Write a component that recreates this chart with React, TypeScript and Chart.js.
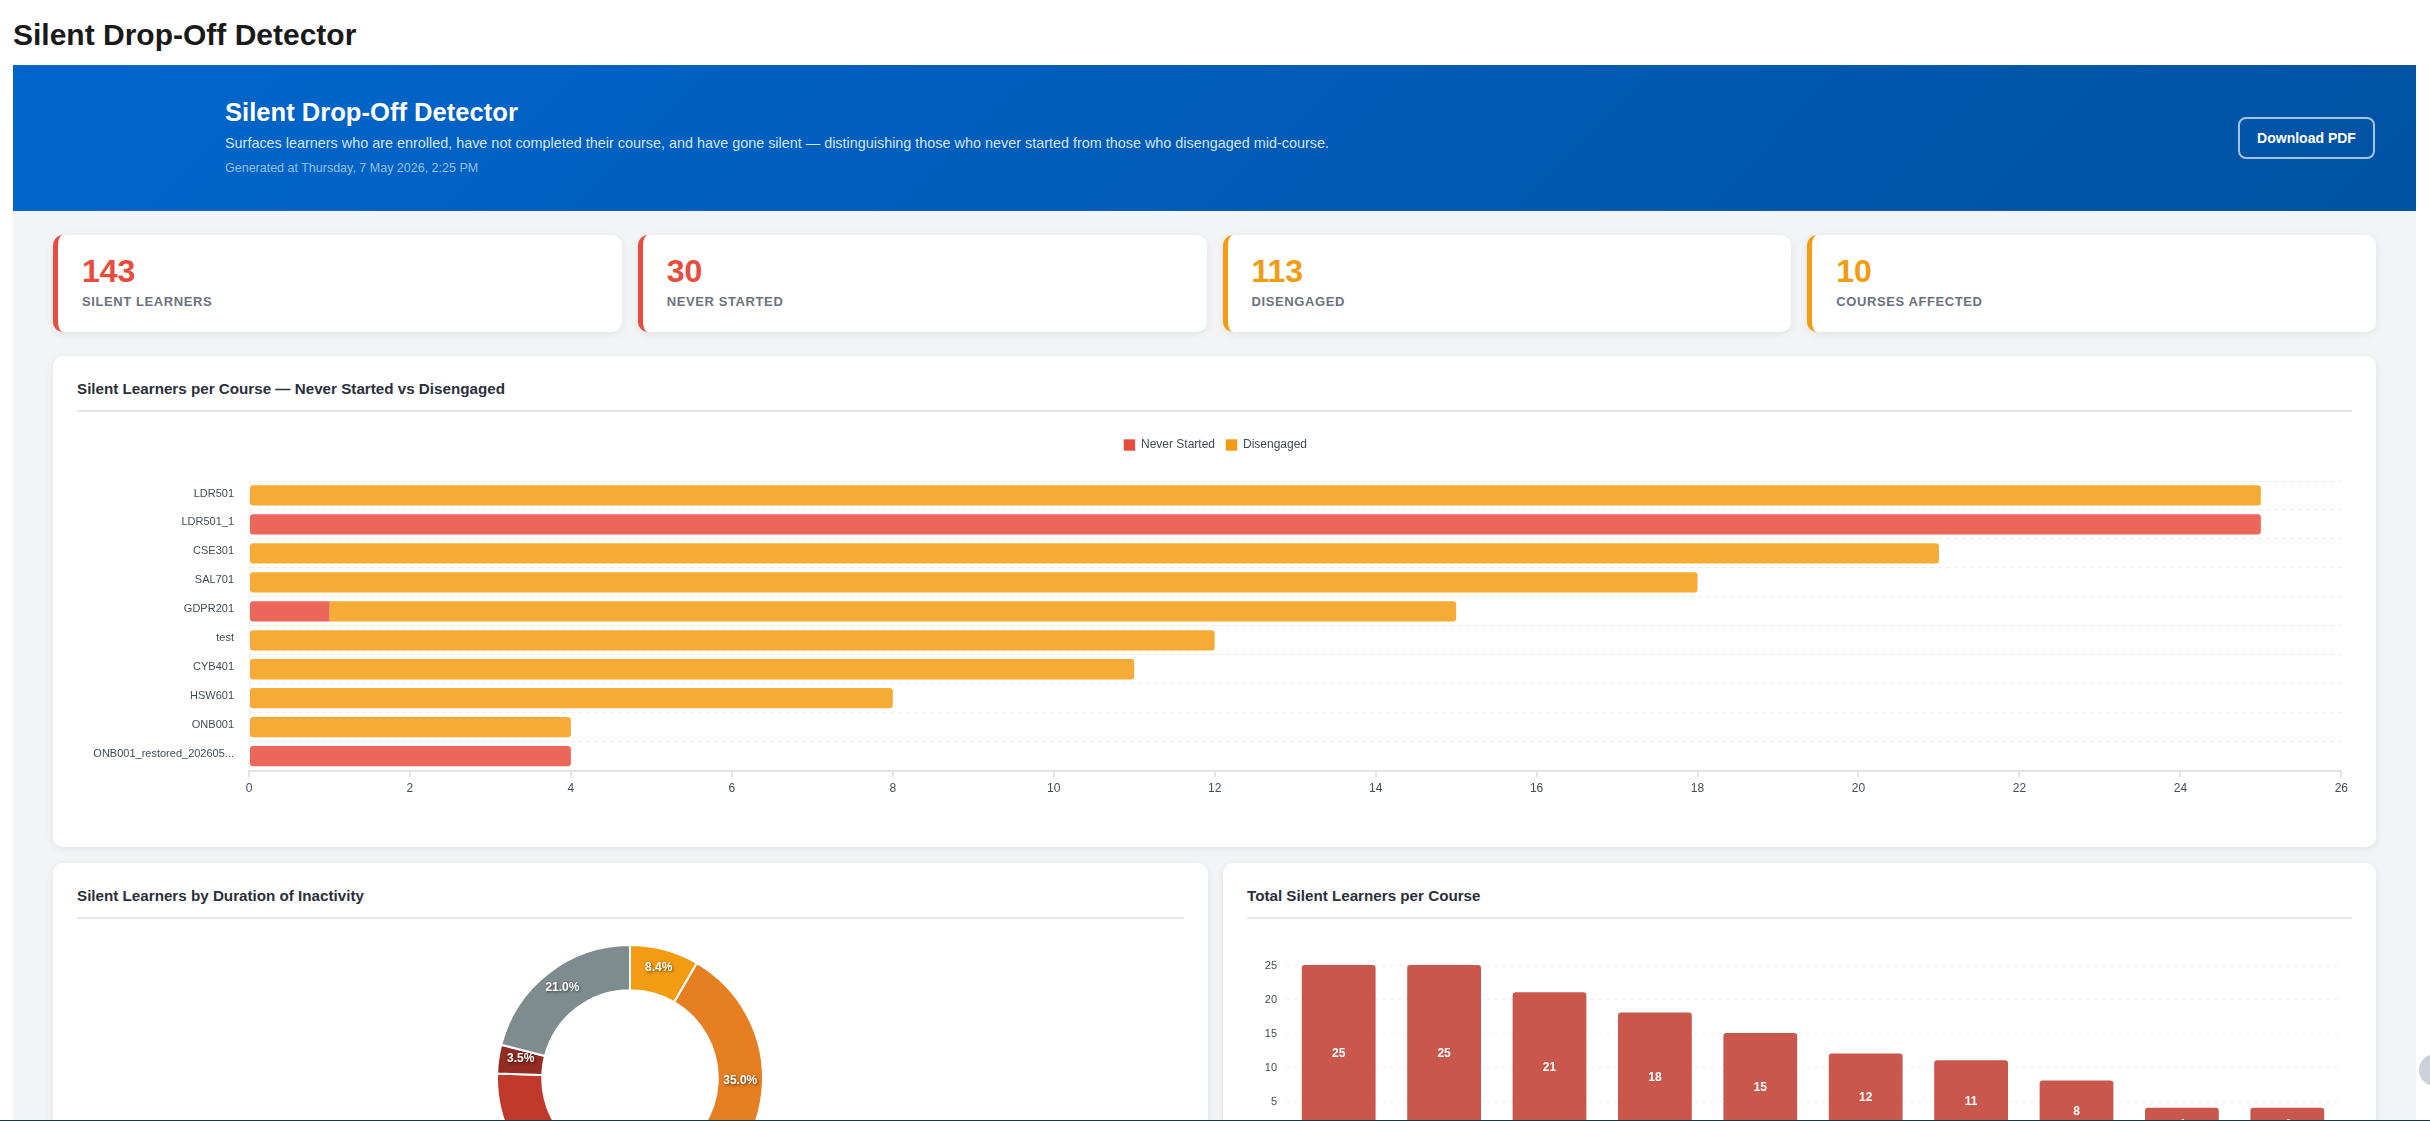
import React, { useEffect, useRef } from "react";
import { Chart, registerables } from "chart.js";

Chart.register(...registerables);

const courses = ["LDR501", "LDR501_1", "CSE301", "SAL701", "GDPR201", "test", "CYB401", "HSW601", "ONB001", "ONB001_restored_202605..."];
const neverStarted = [0, 25, 0, 0, 1, 0, 0, 0, 0, 4];
const disengaged = [25, 0, 21, 18, 14, 12, 11, 8, 4, 0];
const totals = [25, 25, 21, 18, 15, 12, 11, 8, 4, 4];
const durationBands = ["Band 1", "Band 2", "Band 3", "Band 4", "Band 5"];
const durationCounts = [12, 50, 46, 5, 30];
const durationColors = ["#f39c12", "#e67e22", "#c0392b", "#922b21", "#7f8c8d"];
const kpis = [
  { value: "143", label: "Silent Learners", color: "#e74c3c" },
  { value: "30", label: "Never Started", color: "#e74c3c" },
  { value: "113", label: "Disengaged", color: "#f39c12" },
  { value: "10", label: "Courses Affected", color: "#f39c12" },
];

const FONT = "'Liberation Sans', Arial, sans-serif";
const TICK = "#444b55";
const R = 3;

const doughnutLabels = {
  id: "doughnutLabels",
  afterDatasetsDraw(chart: any) {
    const meta = chart.getDatasetMeta(0);
    const total = durationCounts.reduce((a, b) => a + b, 0);
    const ctx = chart.ctx;
    ctx.save();
    ctx.font = `bold 12px ${FONT}`;
    ctx.fillStyle = "#fff";
    ctx.textAlign = "center";
    ctx.shadowColor = "rgba(0,0,0,0.6)";
    ctx.shadowBlur = 3;
    ctx.shadowOffsetX = 1;
    ctx.shadowOffsetY = 1;
    meta.data.forEach((arc: any, i: number) => {
      const p = arc.tooltipPosition();
      ctx.fillText(((durationCounts[i] / total) * 100).toFixed(1) + "%", p.x, p.y);
    });
    ctx.restore();
  },
};

const barLabels = {
  id: "barLabels",
  afterDatasetsDraw(chart: any) {
    const meta = chart.getDatasetMeta(0);
    const ctx = chart.ctx;
    ctx.save();
    ctx.font = `bold 12px ${FONT}`;
    ctx.fillStyle = "#fff";
    ctx.textAlign = "center";
    ctx.textBaseline = "middle";
    meta.data.forEach((bar: any, i: number) => {
      const mid = (bar.y + bar.base) / 2;
      ctx.fillText(String(totals[i]), bar.x, mid + 4);
    });
    ctx.restore();
  },
};

const legendGap = {
  id: "legendGap",
  beforeLayout(chart: any) {
    const legend = chart.legend;
    if (legend && !legend.__patched) {
      const fit = legend.fit;
      legend.fit = function () {
        fit.call(this);
        this.height += 20;
      };
      legend.__patched = true;
    }
  },
};

function useChart(make: (c: HTMLCanvasElement) => Chart) {
  const ref = useRef<HTMLCanvasElement>(null);
  useEffect(() => {
    const chart = make(ref.current!);
    return () => chart.destroy();
  }, []);
  return ref;
}

const cardStyle: React.CSSProperties = {
  position: "absolute",
  background: "#fff",
  borderRadius: 10,
  boxShadow: "0 2px 8px rgba(0,0,0,0.08)",
};

function CardTitle({ text, left, top, width }: { text: string; left: number; top: number; width: number }) {
  return (
    <div style={{ position: "absolute", left, top, width, height: 38, borderBottom: "2px solid #e5e5ec", fontSize: 15.2, fontWeight: 700, color: "#2a303c", lineHeight: "34px" }}>
      {text}
    </div>
  );
}

export default function App() {
  const stackedRef = useChart((c) =>
    new Chart(c, {
      type: "bar",
      data: {
        labels: courses,
        datasets: [
          {
            label: "Never Started",
            data: neverStarted,
            backgroundColor: "rgba(231,76,60,0.85)",
            borderSkipped: false,
            borderRadius: (ctx: any) => {
              const inner = disengaged[ctx.dataIndex] > 0 ? 0 : R;
              return { topLeft: R, bottomLeft: R, topRight: inner, bottomRight: inner };
            },
            barPercentage: 0.7,
            categoryPercentage: 1,
          },
          {
            label: "Disengaged",
            data: disengaged,
            backgroundColor: "rgba(243,156,18,0.85)",
            borderSkipped: false,
            borderRadius: (ctx: any) => {
              const inner = neverStarted[ctx.dataIndex] > 0 ? 0 : R;
              return { topLeft: inner, bottomLeft: inner, topRight: R, bottomRight: R };
            },
            barPercentage: 0.7,
            categoryPercentage: 1,
          },
        ],
      },
      options: {
        indexAxis: "y",
        responsive: false,
        animation: false,
        layout: { padding: { left: 8, right: 6, top: 5, bottom: 23 } },
        plugins: {
          tooltip: { enabled: false },
          legend: {
            position: "top",
            align: "center",
            labels: {
              boxWidth: 11,
              boxHeight: 11,
              padding: 11,
              color: TICK,
              font: { family: FONT, size: 12 },
              generateLabels: () => [
                { text: "Never Started", fillStyle: "#e74c3c", strokeStyle: "rgba(231,76,60,0.35)", lineWidth: 1, fontColor: TICK, datasetIndex: 0 },
                { text: "Disengaged", fillStyle: "#f39c12", strokeStyle: "rgba(243,156,18,0.35)", lineWidth: 1, fontColor: TICK, datasetIndex: 1 },
              ],
            },
          },
        },
        scales: {
          x: {
            stacked: true,
            min: 0,
            max: 26,
            grid: { drawOnChartArea: false, color: "#e4e4e4", lineWidth: 2, tickLength: 7 },
            border: { color: "#e4e4e4", width: 2 },
            ticks: { stepSize: 2, color: TICK, padding: 4, font: { family: FONT, size: 12 }, maxRotation: 0 },
          },
          y: {
            stacked: true,
            afterFit(scale: any) {
              scale.width = 164;
            },
            grid: { color: "#ececec", drawTicks: false, lineWidth: 1 },
            border: { color: "#efefef", dash: [4, 4], width: 1 },
            ticks: { color: TICK, padding: 15, labelOffset: -2, font: { family: FONT, size: 11 }, autoSkip: false },
          },
        },
      },
      plugins: [legendGap],
    })
  );

  const doughnutRef = useChart((c) =>
    new Chart(c, {
      type: "doughnut",
      data: {
        labels: durationBands,
        datasets: [{ data: durationCounts, backgroundColor: durationColors, borderColor: "#fff", borderWidth: 2 }],
      },
      options: {
        responsive: false,
        animation: false,
        cutout: "66%",
        plugins: { legend: { display: false }, tooltip: { enabled: false } },
      },
      plugins: [doughnutLabels],
    })
  );

  const totalRef = useChart((c) =>
    new Chart(c, {
      type: "bar",
      data: {
        labels: courses,
        datasets: [{ label: "Total", data: totals, backgroundColor: "rgba(192,57,43,0.85)", borderRadius: 3, barPercentage: 0.7, categoryPercentage: 1 }],
      },
      options: {
        responsive: false,
        animation: false,
        layout: { padding: { left: 0, right: 12, top: 35, bottom: 0 } },
        plugins: { legend: { display: false }, tooltip: { enabled: false } },
        scales: {
          x: {
            afterFit(scale: any) {
              scale.height = 45;
            },
            grid: { display: false },
            ticks: { color: TICK, font: { family: FONT, size: 11 }, minRotation: 45, maxRotation: 45, autoSkip: false },
          },
          y: {
            min: 0,
            max: 25,
            afterFit(scale: any) {
              scale.width = 39;
            },
            grid: { color: "#f0f0f0", drawTicks: false },
            border: { display: false, dash: [4, 4] },
            ticks: { stepSize: 5, color: TICK, padding: 9, labelOffset: 1, font: { family: FONT, size: 11 } },
          },
        },
      },
      plugins: [barLabels],
    })
  );

  return (
    <div style={{ position: "fixed", left: 0, top: 0, width: 2430, height: 1121, overflow: "hidden", background: "#fff", fontFamily: FONT }}>
      <div style={{ position: "absolute", left: 13, top: 16, fontSize: 30, fontWeight: 700, lineHeight: "37px", color: "#1a1a1a" }}>Silent Drop-Off Detector</div>

      <div style={{ position: "absolute", left: 13, top: 211, width: 2403, height: 910, background: "#f3f4f6" }} />

      <div style={{ position: "absolute", left: 13, top: 65, width: 2403, height: 146, background: "linear-gradient(135deg, #0066cc 0%, #0052a3 100%)", color: "#fff" }}>
        <div style={{ position: "absolute", left: 212, top: 31, fontSize: 25.6, fontWeight: 700, lineHeight: "32px", whiteSpace: "nowrap" }}>Silent Drop-Off Detector</div>
        <div style={{ position: "absolute", left: 212, top: 69, fontSize: 14.4, lineHeight: "18px", color: "rgba(255,255,255,0.85)", whiteSpace: "nowrap" }}>
          Surfaces learners who are enrolled, have not completed their course, and have gone silent — distinguishing those who never started from those who disengaged mid-course.
        </div>
        <div style={{ position: "absolute", left: 212, top: 95, fontSize: 12.5, lineHeight: "16px", color: "rgba(255,255,255,0.6)", whiteSpace: "nowrap" }}>Generated at Thursday, 7 May 2026, 2:25 PM</div>
        <div style={{ position: "absolute", left: 2225, top: 52, width: 137, height: 42, boxSizing: "border-box", border: "2px solid rgba(255,255,255,0.65)", borderRadius: 8, fontSize: 14, fontWeight: 700, lineHeight: "38px", textAlign: "center" }}>Download PDF</div>
      </div>

      {kpis.map((k, i) => (
        <div key={k.label} style={{ ...cardStyle, left: 53 + i * 584.75, top: 235, width: 568.75, height: 97, boxSizing: "border-box", borderLeft: `5px solid ${k.color}` }}>
          <div style={{ position: "absolute", left: 24, top: 18, fontSize: 32, fontWeight: 700, lineHeight: "37px", color: k.color }}>{k.value}</div>
          <div style={{ position: "absolute", left: 24, top: 59, fontSize: 13, fontWeight: 700, lineHeight: "15px", letterSpacing: 0.6, textTransform: "uppercase", color: "#6b7280" }}>{k.label}</div>
        </div>
      ))}

      <div style={{ ...cardStyle, left: 53, top: 356, width: 2323, height: 491 }} />
      <CardTitle text="Silent Learners per Course — Never Started vs Disengaged" left={77} top={372} width={2275} />
      <canvas ref={stackedRef} width={2275} height={400} style={{ position: "absolute", left: 77, top: 423, width: 2275, height: 400 }} />

      <div style={{ ...cardStyle, left: 53, top: 863, width: 1154.5, height: 400 }} />
      <CardTitle text="Silent Learners by Duration of Inactivity" left={77} top={879} width={1106.5} />
      <canvas ref={doughnutRef} width={268} height={268} style={{ position: "absolute", left: 496, top: 944, width: 268, height: 268 }} />

      <div style={{ ...cardStyle, left: 1223, top: 863, width: 1153, height: 400 }} />
      <CardTitle text="Total Silent Learners per Course" left={1247} top={879} width={1105} />
      <canvas ref={totalRef} width={1105} height={250} style={{ position: "absolute", left: 1247, top: 930, width: 1105, height: 250 }} />

      <div style={{ position: "absolute", left: 2419, top: 1054, width: 32, height: 32, borderRadius: "50%", background: "#cbd2da" }} />
      <div style={{ position: "absolute", left: 0, top: 1120, width: 2430, height: 1, background: "#0f3a48" }} />
    </div>
  );
}
